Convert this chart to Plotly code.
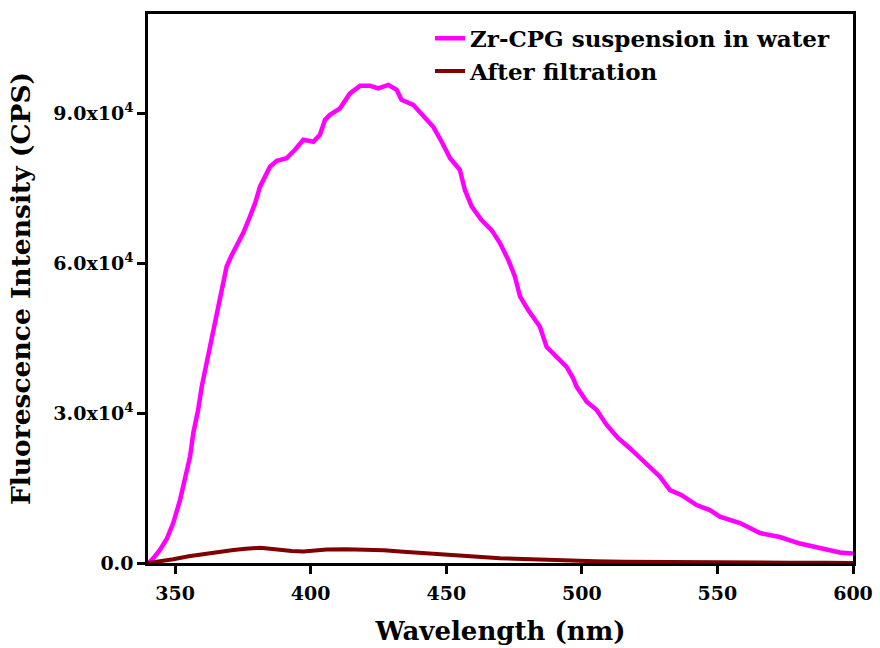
import plotly.graph_objects as go

# Zr-CPG suspension in water
wl_susp = [340.0, 340.7, 342.5, 344.4, 346.9, 349.3, 351.8, 353.6, 355.5, 356.7, 358.5, 359.8,
           361.6, 363.5, 365.3, 367.2, 369.0, 370.9, 372.7, 375.1, 377.6, 379.5, 381.3, 383.1,
           385.0, 387.5, 391.1, 394.2, 397.3, 401.0, 403.4, 405.3, 407.1, 410.8, 414.5, 418.2,
           421.9, 424.9, 428.6, 431.7, 433.5, 437.8, 440.3, 445.2, 448.3, 451.4, 455.0, 456.9,
           459.4, 463.0, 466.7, 469.8, 472.9, 475.3, 477.2, 480.2, 484.5, 487.0, 490.7, 494.4,
           496.8, 498.1, 501.8, 505.4, 509.1, 513.4, 517.7, 521.4, 525.1, 528.8, 532.5, 536.8,
           542.3, 547.2, 550.9, 558.3, 565.7, 573.0, 580.4, 587.8, 595.2, 600.0]
int_susp = [0, 260, 1300, 2600, 4800, 8000, 12600, 17300, 21300, 26000, 30700, 35300,
            40000, 46000, 50000, 54700, 59400, 61700, 63400, 66100, 69400, 72100, 75400, 77400,
            79400, 80600, 81100, 82800, 84800, 84400, 85800, 88800, 89800, 91100, 94100, 95600,
            95600, 95100, 95800, 94800, 92800, 91800, 90400, 87400, 84400, 81100, 78800, 74700,
            71400, 68700, 66700, 64100, 60700, 57400, 53400, 50700, 47400, 43300, 41300, 39300,
            37000, 35300, 32300, 30700, 27700, 25000, 23000, 21000, 19000, 17300, 14600, 13600,
            11600, 10600, 9300, 8000, 6000, 5200, 3900, 2900, 2100, 1900]

# After filtration
wl_filt = [340, 343, 349.3, 355, 361.6, 366, 371.5, 376, 381.3, 385, 388.7, 393, 397.3, 401,
           405.9, 413, 420.6, 427, 432.9, 439, 445.2, 451, 457.5, 463, 469.8, 478.4, 487,
           496.8, 505, 515.3, 527, 540, 558, 576.7, 590, 600]
int_filt = [0, 200, 740, 1350, 1900, 2250, 2600, 2850, 3060, 2850, 2600, 2400, 2300, 2450,
            2700, 2750, 2700, 2550, 2300, 2050, 1800, 1600, 1400, 1200, 940, 800, 600,
            460, 350, 260, 190, 140, 100, 60, 30, 20]

x_ticks = [350, 400, 450, 500, 550, 600]
y_ticks = [0, 30000, 60000, 90000]
y_tick_labels = ["0.0", "3.0x10<sup>4</sup>", "6.0x10<sup>4</sup>", "9.0x10<sup>4</sup>"]

FONT = "DejaVu Serif"

fig = go.Figure()
fig.add_trace(go.Scatter(x=wl_susp, y=int_susp, mode="lines", name="Zr-CPG suspension in water",
                         line=dict(color="#FF00FF", width=4.5)))
fig.add_trace(go.Scatter(x=wl_filt, y=int_filt, mode="lines", name="After filtration",
                         line=dict(color="#800000", width=4)))

axis_common = dict(showline=True, linecolor="black", linewidth=2.5, mirror=True,
                   ticks="outside", ticklen=8, tickwidth=2.5, tickcolor="black",
                   showgrid=False, zeroline=False, automargin=False)

fig.update_layout(
    width=880, height=648,
    margin=dict(l=148, r=27, t=14, b=85),
    paper_bgcolor="white", plot_bgcolor="white",
    font=dict(family=FONT, color="black", weight="bold"),
    xaxis=dict(range=[340, 600], tickvals=x_ticks,
               tickfont=dict(family=FONT, size=19, weight="bold"), ticklabelstandoff=3,
               title=dict(text="Wavelength (nm)", font=dict(family=FONT, size=26, weight="bold"),
                          standoff=20),
               **axis_common),
    yaxis=dict(range=[0, 110000], tickvals=y_ticks, ticktext=y_tick_labels,
               tickfont=dict(family=FONT, size=19, weight="bold"),
               title=dict(text="Fluorescence Intensity (CPS)",
                          font=dict(family=FONT, size=26.5, weight="bold"), standoff=16),
               **axis_common),
    legend=dict(x=0.40, y=0.995, xanchor="left", yanchor="top",
                font=dict(family=FONT, size=23, weight="bold"),
                bgcolor="rgba(0,0,0,0)", tracegroupgap=0),
    showlegend=True,
)

fig.write_html("out.html")
